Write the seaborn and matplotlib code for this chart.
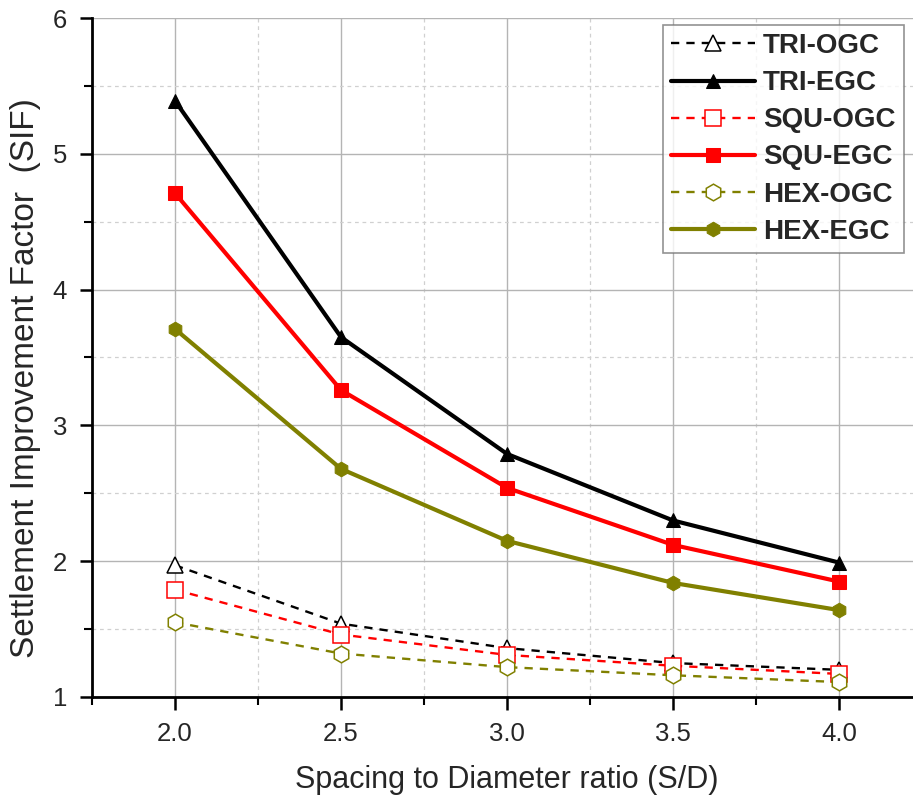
import numpy as np
import pandas as pd
import matplotlib
matplotlib.use("Agg")
import matplotlib.pyplot as plt
from matplotlib.ticker import MultipleLocator
import seaborn as sns

# spacing to diameter ratio
sd_ratio = [2.0, 2.5, 3.0, 3.5, 4.0]

# settlement improvement factor for each case
tri_ogc = [1.97, 1.54, 1.36, 1.25, 1.20]
tri_egc = [5.39, 3.65, 2.79, 2.30, 1.99]
squ_ogc = [1.79, 1.46, 1.31, 1.23, 1.17]
squ_egc = [4.71, 3.26, 2.54, 2.12, 1.85]
hex_ogc = [1.55, 1.32, 1.22, 1.16, 1.11]
hex_egc = [3.71, 2.68, 2.15, 1.84, 1.64]

labels = ["TRI-OGC", "TRI-EGC", "SQU-OGC", "SQU-EGC", "HEX-OGC", "HEX-EGC"]
series = [tri_ogc, tri_egc, squ_ogc, squ_egc, hex_ogc, hex_egc]

colors = ["black", "black", "#ff0000", "#ff0000", "#808000", "#808000"]
markers = ["^", "^", "s", "s", "h", "h"]

sns.set_style("white")
plt.rcParams['font.family'] = ['Liberation Sans', 'DejaVu Sans']

fig = plt.figure(figsize=(9.13, 7.95), dpi=100)
ax = fig.add_axes([92 / 913, 98 / 795, 830 / 913, 679 / 795])

for i, (lab, vals) in enumerate(zip(labels, series)):
    df = pd.DataFrame({"sd": sd_ratio, "sif": vals})
    if "OGC" in lab:
        sns.lineplot(data=df, x="sd", y="sif", ax=ax, color=colors[i],
                     marker=markers[i], markersize=12, markerfacecolor="white",
                     markeredgecolor=colors[i], markeredgewidth=1.1,
                     linewidth=1.7, label=lab, zorder=3)
        ax.lines[-1].set_dashes([3.5, 3])
    else:
        sns.lineplot(data=df, x="sd", y="sif", ax=ax, color=colors[i],
                     marker=markers[i], markersize=10.5, markerfacecolor=colors[i],
                     markeredgecolor=colors[i], linewidth=3.0,
                     label=lab, zorder=4)

ax.set_xlim(1.75, 4.25)
ax.set_ylim(1, 6)
ax.xaxis.set_minor_locator(MultipleLocator(0.25))
ax.yaxis.set_major_locator(MultipleLocator(1))
ax.yaxis.set_minor_locator(MultipleLocator(0.5))
ax.set_xticks([2.0, 2.5, 3.0, 3.5, 4.0])
ax.set_xticklabels(["2.0", "2.5", "3.0", "3.5", "4.0"])

ax.grid(True, which="major", color="#b4b4b4", linewidth=1.0, linestyle="-")
ax.grid(True, which="minor", color="#d0d0d0", linewidth=0.9, linestyle=(0, (3, 3)))
ax.set_axisbelow(True)

for s in ["top", "right"]:
    ax.spines[s].set_visible(False)
for s in ["left", "bottom"]:
    ax.spines[s].set_color("black")
    ax.spines[s].set_linewidth(2.0)

ax.tick_params(which="major", direction="out", length=9, width=1.8,
               color="black", labelsize=18.5, pad=9, left=True, bottom=True)
ax.tick_params(which="minor", direction="out", length=6, width=1.5,
               color="black", left=True, bottom=True)

ax.set_xlabel("Spacing to Diameter ratio (S/D)", fontsize=22, labelpad=14)
ax.set_ylabel("Settlement Improvement Factor  (SIF)", fontsize=24)
ax.yaxis.set_label_coords(-0.062, 0.47)

leg = ax.legend(loc="upper left", bbox_to_anchor=(571 / 830, 0.99),
                prop={'family': ['Liberation Sans', 'DejaVu Sans'],
                      'weight': 'bold', 'size': 20},
                frameon=True, fancybox=False, edgecolor="#777777",
                handlelength=3.0, handletextpad=0.3, labelspacing=0.4,
                borderpad=0.3, borderaxespad=0)
leg.get_frame().set_linewidth(1.2)

fig.savefig("out.png", dpi=100)
